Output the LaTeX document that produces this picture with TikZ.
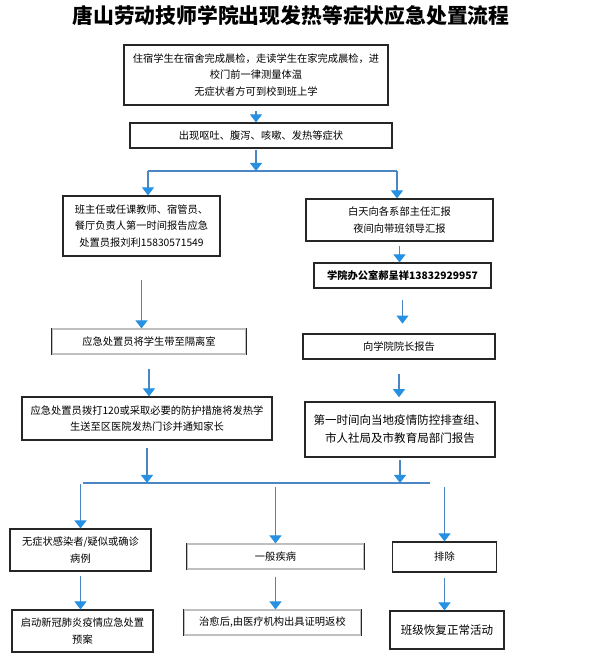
\documentclass[tikz,border=0pt]{standalone}
\usepackage{fontspec}
\setmainfont{Noto Sans CJK SC}
\usepackage{xcolor}
\usetikzlibrary{arrows.meta}

\definecolor{lineblue}{RGB}{74,134,196}
\definecolor{headblue}{RGB}{38,144,226}

\tikzset{
  box/.style={draw=black!85, line width=0.8pt, align=center, inner sep=0pt,
    font=\fontsize{7.3}{11.8}\selectfont},
  bigbox/.style={box, font=\fontsize{8.2}{12.8}\selectfont},
  openbox/.style={box, draw=black!25},
  arr/.style={draw=lineblue, line width=0.8pt,
    -{Triangle[width=8.5pt,length=5.7pt,color=headblue]}},
  tie/.style={draw=lineblue, line width=0.8pt}
}

\begin{document}
\begin{tikzpicture}[x=0.25mm, y=-0.25mm]
\useasboundingbox (0,0) rectangle (600,671);

\node (title) at (291,16) {\fontsize{14.8}{18}\selectfont\bfseries 唐山劳动技师学院出现发热等症状应急处置流程};

% top of the flow
\node[box, minimum width=264*0.25mm, minimum height=60*0.25mm] (check) at (256,75)
  {住宿学生在宿舍完成晨检，走读学生在家完成晨检，进\\校门前一律测量体温\\无症状者方可到校到班上学};
\node[box, minimum width=262*0.25mm, minimum height=25*0.25mm] (sympt) at (261,135.5)
  {出现呕吐、腹泻、咳嗽、发热等症状};

% two columns
\node[box, minimum width=157*0.25mm, minimum height=60*0.25mm] (teach) at (141.5,226)
  {班主任或任课教师、宿管员、\\餐厅负责人第一时间报告应急\\处置员报刘利15830571549};
\node[box, minimum width=187*0.25mm, minimum height=42*0.25mm] (dept) at (399.5,220)
  {白天向各系部主任汇报\\夜间向带班领导汇报};
\node[box, minimum width=177*0.25mm, minimum height=25*0.25mm] (office) at (402.5,275.5)
  {\bfseries 学院办公室郝呈祥13832929957};
\node[openbox, minimum width=194*0.25mm, minimum height=25*0.25mm] (isol) at (149,341.5)
  {应急处置员将学生带至隔离室};
\node[box, minimum width=192*0.25mm, minimum height=25*0.25mm] (dean) at (399,346.5)
  {向学院院长报告};
\node[box, minimum width=250*0.25mm, minimum height=43*0.25mm] (hosp) at (147,418.5)
  {应急处置员拨打120或采取必要的防护措施将发热学\\生送至区医院发热门诊并通知家长};
\node[bigbox, minimum width=190*0.25mm, minimum height=55*0.25mm] (city) at (400,429.5)
  {第一时间向当地疫情防控排查组、\\市人社局及市教育局部门报告};

% three outcomes
\node[box, minimum width=141*0.25mm, minimum height=42*0.25mm] (covid) at (80.5,550)
  {无症状感染者/疑似或确诊\\病例};
\node[openbox, minimum width=177*0.25mm, minimum height=25*0.25mm] (ill) at (275.5,556.5)
  {一般疾病};
\node[box, minimum width=104*0.25mm, minimum height=30*0.25mm] (excl) at (444.5,557)
  {排除};
\node[box, minimum width=141*0.25mm, minimum height=42*0.25mm] (plan) at (82.5,631)
  {启动新冠肺炎疫情应急处置\\预案};
\node[openbox, minimum width=177*0.25mm, minimum height=25*0.25mm] (back) at (272.5,622.5)
  {治愈后,由医疗机构出具证明返校};
\node[bigbox, minimum width=114*0.25mm, minimum height=38*0.25mm] (resume) at (447,630)
  {班级恢复正常活动};

% dark sides of the open boxes
\foreach \n in {isol,ill,back}
  \draw[black!85, line width=0.8pt] (\n.north west) -- (\n.south west)
    (\n.north east) -- (\n.south east);

% split points
\coordinate (s1) at (256,171);
\coordinate (s1l) at (148,171);
\coordinate (s1r) at (397,171);
\coordinate (m) at (256,483);
\coordinate (ml) at (83,483);
\coordinate (mr) at (430,483);

\draw[tie] (s1l) -- (s1r);
\draw[tie] (ml) -- (mr);

\draw[arr, shorten <=4pt] (check.south) -- (check.south |- sympt.north);
\draw[arr, shorten <=1pt] (sympt.south -| s1) -- (s1);
\draw[arr] (s1l) -- (s1l |- teach.north);
\draw[arr] (s1r) -- (s1r |- dept.north);
\draw[arr, shorten <=3pt] (dept.south) -- (dept.south |- office.north);
\draw[arr, shorten <=17pt] (teach.south) -- (teach.south |- isol.north);
\draw[arr, shorten <=8pt, shorten >=7pt] (office.south) -- (office.south |- dean.north);
\draw[arr, shorten <=10pt] (isol.south) -- (isol.south |- hosp.north);
\draw[arr, shorten <=10pt, shorten >=3pt] (dean.south) -- (dean.south |- city.north);
\draw[arr, shorten <=5pt] (hosp.south) -- (hosp.south |- m);
\draw[arr, shorten <=2pt] (city.south) -- (city.south |- m);
\draw[arr, shorten <=1pt] (covid.north |- m) -- (covid.north);
\draw[arr, shorten <=3pt] (ill.north |- m) -- (ill.north);
\draw[arr, shorten <=3pt] (excl.north |- m) -- (excl.north);
\draw[arr, shorten <=3pt] (covid.south) -- (covid.south |- plan.north);
\draw[arr, shorten <=5pt] (ill.south) -- (ill.south |- back.north);
\draw[arr, shorten <=4pt] (excl.south) -- (excl.south |- resume.north);
\end{tikzpicture}
\end{document}
